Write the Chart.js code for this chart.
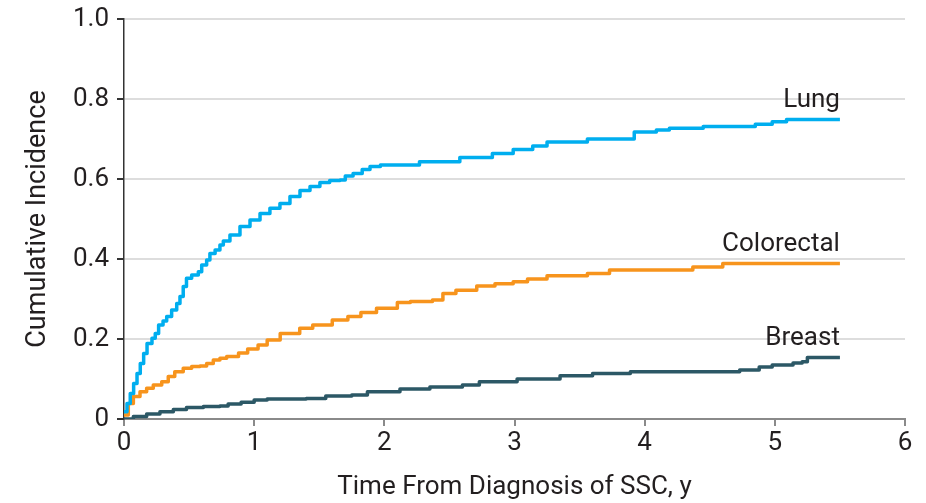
<!DOCTYPE html>
<html>
<head>
<meta charset="utf-8">
<script src="https://cdn.jsdelivr.net/npm/chart.js@4.4.1/dist/chart.umd.min.js"></script>
<style>
  html, body { margin: 0; padding: 0; background: #fff; }
  #wrap { width: 926px; height: 503px; }
</style>
</head>
<body>
<div id="wrap"><canvas id="incidenceChart"></canvas></div>
<script>
// time from diagnosis (years) and cumulative incidence
const lungTime = [0, 0.023, 0.048, 0.074, 0.1, 0.125, 0.151, 0.177, 0.215, 0.24, 0.266, 0.3, 0.328, 0.366, 0.405, 0.43, 0.455, 0.48, 0.52, 0.571, 0.597, 0.635, 0.66, 0.7, 0.737, 0.763, 0.814, 0.891, 0.968, 1.045, 1.121, 1.198, 1.275, 1.352, 1.429, 1.505, 1.58, 1.66, 1.7, 1.76, 1.83, 1.89, 1.97, 2.27, 2.58, 2.83, 2.99, 3.14, 3.25, 3.56, 3.92, 4.09, 4.19, 4.45, 4.85, 4.98, 5.09, 5.5];
const lungCI = [0.018, 0.039, 0.064, 0.089, 0.114, 0.139, 0.164, 0.189, 0.202, 0.214, 0.235, 0.245, 0.256, 0.2725, 0.289, 0.306, 0.331, 0.352, 0.36, 0.368, 0.385, 0.3975, 0.414, 0.4225, 0.435, 0.445, 0.46, 0.481, 0.4975, 0.514, 0.527, 0.539, 0.556, 0.571, 0.581, 0.591, 0.596, 0.5975, 0.6075, 0.614, 0.624, 0.631, 0.635, 0.643, 0.654, 0.664, 0.674, 0.6825, 0.6925, 0.7, 0.7175, 0.7225, 0.727, 0.731, 0.737, 0.743, 0.749, 0.749];

const colorectalTime = [0, 0.033, 0.072, 0.123, 0.174, 0.225, 0.29, 0.34, 0.39, 0.455, 0.52, 0.584, 0.635, 0.686, 0.737, 0.789, 0.88, 0.95, 1.03, 1.1, 1.2, 1.35, 1.45, 1.6, 1.72, 1.82, 1.94, 2.1, 2.2, 2.37, 2.45, 2.55, 2.71, 2.85, 2.99, 3.1, 3.25, 3.56, 3.73, 4.37, 4.6, 5.5];
const colorectalCI = [0.01, 0.039, 0.056, 0.068, 0.077, 0.085, 0.093, 0.106, 0.118, 0.127, 0.131, 0.1325, 0.139, 0.1475, 0.152, 0.156, 0.165, 0.175, 0.185, 0.1975, 0.214, 0.227, 0.235, 0.2475, 0.256, 0.266, 0.277, 0.291, 0.294, 0.2975, 0.314, 0.322, 0.3325, 0.338, 0.343, 0.35, 0.358, 0.364, 0.3725, 0.38, 0.389, 0.389];

const breastTime = [0, 0.072, 0.174, 0.276, 0.379, 0.48, 0.61, 0.737, 0.8, 0.9, 1.0, 1.1, 1.4, 1.55, 1.75, 1.87, 2.12, 2.35, 2.6, 2.73, 3.02, 3.35, 3.6, 3.89, 4.73, 4.88, 4.98, 5.14, 5.21, 5.25, 5.5];
const breastCI = [0, 0.006, 0.0125, 0.018, 0.024, 0.029, 0.031, 0.0325, 0.0375, 0.042, 0.0475, 0.05, 0.051, 0.0575, 0.06, 0.068, 0.075, 0.08, 0.085, 0.093, 0.1, 0.108, 0.114, 0.118, 0.1225, 0.13, 0.135, 0.14, 0.143, 0.154, 0.154];

const xTicks = [0, 1, 2, 3, 4, 5, 6];
const yTicks = [0, 0.2, 0.4, 0.6, 0.8, 1.0];

const FONT = "Roboto, 'Liberation Sans', sans-serif";
const TEXT = '#231f20';

function toPoints(times, values) {
  return times.map((t, i) => ({ x: t, y: values[i] }));
}

// draws the series name just above the end of each curve
const endLabels = {
  id: 'endLabels',
  afterDatasetsDraw(chart) {
    const ctx = chart.ctx;
    ctx.save();
    ctx.font = `26px ${FONT}`;
    ctx.fillStyle = TEXT;
    ctx.textAlign = 'right';
    ctx.textBaseline = 'alphabetic';
    chart.data.datasets.forEach((ds, i) => {
      const pts = chart.getDatasetMeta(i).data;
      const last = pts[pts.length - 1];
      ctx.fillText(ds.label, last.x, last.y - 12);
    });
    ctx.restore();
  }
};

const ctx = document.getElementById('incidenceChart').getContext('2d');

new Chart(ctx, {
  type: 'line',
  data: {
    datasets: [
      {
        label: 'Lung',
        data: toPoints(lungTime, lungCI),
        borderColor: '#00aeef',
        borderWidth: 3.5,
        borderJoinStyle: 'round',
        pointRadius: 0,
        stepped: true,
        fill: false
      },
      {
        label: 'Colorectal',
        data: toPoints(colorectalTime, colorectalCI),
        borderColor: '#f7941d',
        borderWidth: 3.5,
        borderJoinStyle: 'round',
        pointRadius: 0,
        stepped: true,
        fill: false
      },
      {
        label: 'Breast',
        data: toPoints(breastTime, breastCI),
        borderColor: '#2c5866',
        borderWidth: 3.5,
        borderJoinStyle: 'round',
        pointRadius: 0,
        stepped: true,
        fill: false
      }
    ]
  },
  options: {
    responsive: true,
    maintainAspectRatio: false,
    animation: false,
    layout: { padding: { top: 19, right: 21, left: 0, bottom: 0 } },
    plugins: {
      legend: { display: false },
      tooltip: { enabled: false }
    },
    scales: {
      x: {
        type: 'linear',
        min: 0,
        max: 6,
        afterBuildTicks: (axis) => { axis.ticks = xTicks.map(v => ({ value: v })); },
        ticks: { color: TEXT, font: { family: FONT, size: 26 }, padding: 2 },
        grid: { drawOnChartArea: false, color: '#8a8a8a', lineWidth: 2, tickLength: 7 },
        border: { color: '#8a8a8a', width: 2 },
        title: {
          display: true,
          text: 'Time From Diagnosis of SSC, y',
          color: TEXT,
          font: { family: FONT, size: 26 },
          padding: { top: 4, bottom: 0 }
        },
        afterFit: (axis) => {
          axis.height = 84;
          axis.paddingLeft = 0;
          axis.paddingRight = 0;
        }
      },
      y: {
        min: 0,
        max: 1,
        afterBuildTicks: (axis) => { axis.ticks = yTicks.map(v => ({ value: v })); },
        ticks: {
          color: TEXT,
          font: { family: FONT, size: 26 },
          padding: 8,
          callback: (v) => (v === 0 ? '0' : v.toFixed(1))
        },
        grid: { color: '#dddddd', lineWidth: 2, tickColor: '#333', tickLength: 7 },
        border: { color: '#333', width: 1.5 },
        title: {
          display: true,
          text: 'Cumulative Incidence',
          color: TEXT,
          font: { family: FONT, size: 27 },
          padding: { top: 22, bottom: 0 }
        },
        afterFit: (axis) => {
          axis.width = 124;
          axis.paddingTop = 0;
          axis.paddingBottom = 0;
        }
      }
    }
  },
  plugins: [endLabels]
});
</script>
</body>
</html>
